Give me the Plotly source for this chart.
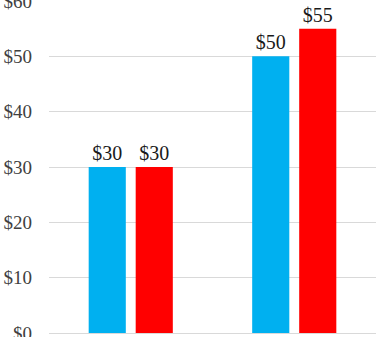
import plotly.graph_objects as go

categories = ["Category 1", "Category 2"]
series_names = ["Series 1", "Series 2"]
blue_values = [30, 50]
red_values = [30, 55]
y_ticks = [0, 10, 20, 30, 40, 50, 60]
y_tick_labels = ["$0", "$10", "$20", "$30", "$40", "$50", "$60"]

font_family = "Liberation Serif, Times New Roman, serif"

fig = go.Figure()
for name, vals, color in [
    (series_names[0], blue_values, "#00B0F0"),
    (series_names[1], red_values, "#FF0000"),
]:
    fig.add_trace(go.Bar(
        x=categories, y=vals, name=name,
        marker=dict(color=color, line=dict(width=0)),
        text=["$" + str(v) for v in vals],
        texttemplate="%{text}", textposition="outside",
        textfont=dict(family=font_family, size=20, color="#1a1a1a"),
        cliponaxis=False,
    ))

fig.update_layout(
    width=388, height=337,
    margin=dict(l=49, r=12, t=1, b=4, autoexpand=False),
    paper_bgcolor="white", plot_bgcolor="white",
    showlegend=False,
    barmode="group", bargap=0.425, bargroupgap=0.21,
    font=dict(family=font_family, size=19, color="#000000"),
)
fig.update_xaxes(showticklabels=False, showgrid=False, showline=False,
                 zeroline=False, automargin=False)
fig.update_yaxes(
    range=[0, 60], tickvals=y_ticks, ticktext=y_tick_labels,
    showgrid=True, gridcolor="#D9D9D9", gridwidth=1,
    zeroline=True, zerolinecolor="#D9D9D9", zerolinewidth=1,
    showline=False, ticks="", ticklabelstandoff=16,
    ticklabeloverflow="allow", automargin=False,
    tickfont=dict(family=font_family, size=19, color="#404040"),
)

fig.write_html("out.html")
